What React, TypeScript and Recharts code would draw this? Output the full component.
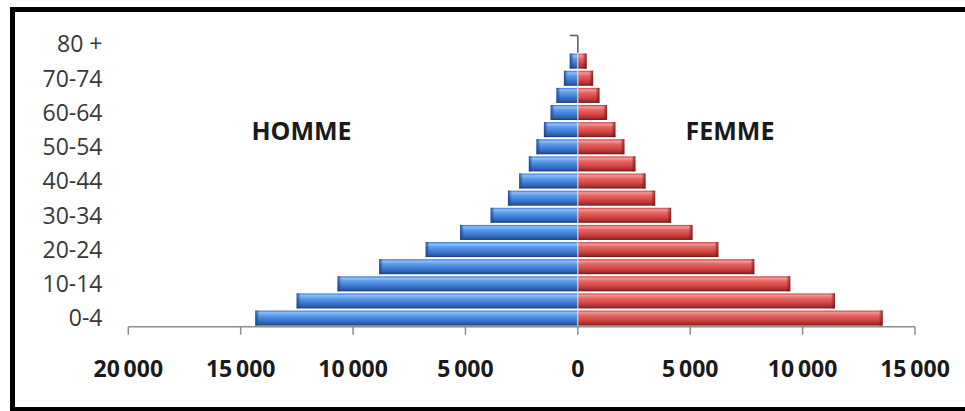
import React from 'react';
import { BarChart, Bar, XAxis, YAxis, ReferenceLine } from 'recharts';

const ages = ['0-4', '5-9', '10-14', '15-19', '20-24', '25-29', '30-34', '35-39', '40-44', '45-49', '50-54', '55-59', '60-64', '65-69', '70-74', '75-79', '80 +'];
const male = [14350, 12510, 10690, 8840, 6770, 5240, 3880, 3110, 2610, 2180, 1840, 1510, 1210, 950, 620, 360, 0];
const female = [13560, 11440, 9450, 7850, 6250, 5100, 4150, 3440, 3010, 2560, 2070, 1670, 1300, 960, 680, 390, 0];
const xTicks = [-20000, -15000, -10000, -5000, 0, 5000, 10000, 15000];

const data = ages.map((age, i) => ({ age, homme: -male[i], femme: female[i] }));

const fmt = (v: number) => {
  const a = Math.abs(v);
  if (a < 1000) return String(a);
  const th = Math.floor(a / 1000);
  const rest = String(a % 1000).padStart(3, '0');
  return th + '\u2009' + rest;
};

const YTick = (props: any) => {
  const { x, y, payload } = props;
  return (
    <text x={x} y={y} dy={8.3} textAnchor="end" fontFamily="'Open Sans', sans-serif" fontSize={23} fill="#383838">
      {payload.value}
    </text>
  );
};

const XTick = (props: any) => {
  const { x, y, payload } = props;
  return (
    <text x={x} y={y} dy={42.6} textAnchor="middle" fontFamily="'Open Sans', sans-serif" fontWeight={700} fontSize={23} fill="#1a1a1a">
      {fmt(payload.value)}
    </text>
  );
};

const makeShape = (kind: 'm' | 'f') => (props: any) => {
  const { x, y, width, height } = props;
  if (!width || !height) return <g />;
  const x0 = Math.min(x, x + width);
  const w = Math.abs(width);
  const h = Math.abs(height);
  const y0 = Math.min(y, y + height);
  const e = Math.min(4, w);
  const endX = kind === 'm' ? x0 : x0 + w - e;
  return (
    <g>
      <rect x={x0} y={y0} width={w} height={h} fill={kind === 'm' ? 'url(#gBlue)' : 'url(#gRed)'} />
      <rect x={endX} y={y0} width={e} height={h} fill={kind === 'm' ? 'url(#eBlue)' : 'url(#eRed)'} />
    </g>
  );
};

const AxisShape = (p: any) => {
  const { x1, y1, y2 } = p;
  const top = Math.min(y1, y2);
  const bottom = Math.max(y1, y2);
  const band = (bottom - top) / ages.length;
  return (
    <g>
      <line x1={x1} y1={top} x2={x1} y2={bottom} stroke="#e8e8e8" strokeWidth={1} />
      <line x1={x1} y1={top} x2={x1} y2={top + band} stroke="#595959" strokeWidth={1.5} />
      <line x1={x1 - 8} y1={top} x2={x1} y2={top} stroke="#595959" strokeWidth={1.5} />
    </g>
  );
};

export default function App() {
  return (
    <div style={{ position: 'absolute', left: 0, top: 0, width: 965, height: 411, overflow: 'hidden', background: '#fff' }}>
      <div
        style={{
          position: 'absolute',
          left: 10,
          top: 7,
          width: 2000,
          height: 405,
          borderLeft: '5px solid #000',
          borderTop: '5px solid #000',
          borderBottom: '5px solid #000',
          borderRight: 'none',
          boxSizing: 'border-box',
        }}
      />
      <div style={{ position: 'absolute', left: 0, top: 0 }}>
        <BarChart
          layout="vertical"
          width={965}
          height={411}
          data={data}
          margin={{ top: 35.5, right: 50, bottom: 24.3, left: 0 }}
          barCategoryGap={1}
          stackOffset="sign"
        >
          <defs>
            <linearGradient id="gBlue" x1="0" y1="0" x2="0" y2="1">
              <stop offset="0%" stopColor="#3b77cf" />
              <stop offset="14%" stopColor="#8dc0f7" />
              <stop offset="32%" stopColor="#5e9be8" />
              <stop offset="62%" stopColor="#3d7bd3" />
              <stop offset="86%" stopColor="#2b5fb0" />
              <stop offset="100%" stopColor="#163870" />
            </linearGradient>
            <linearGradient id="gRed" x1="0" y1="0" x2="0" y2="1">
              <stop offset="0%" stopColor="#c84341" />
              <stop offset="14%" stopColor="#f39896" />
              <stop offset="32%" stopColor="#e56563" />
              <stop offset="62%" stopColor="#d24845" />
              <stop offset="86%" stopColor="#ab2f2d" />
              <stop offset="100%" stopColor="#6c1614" />
            </linearGradient>
            <linearGradient id="eBlue" x1="0" y1="0" x2="1" y2="0">
              <stop offset="0%" stopColor="#1d4488" stopOpacity={0.9} />
              <stop offset="100%" stopColor="#1d4488" stopOpacity={0} />
            </linearGradient>
            <linearGradient id="eRed" x1="0" y1="0" x2="1" y2="0">
              <stop offset="0%" stopColor="#7a1a18" stopOpacity={0} />
              <stop offset="100%" stopColor="#7a1a18" stopOpacity={0.9} />
            </linearGradient>
          </defs>
          <XAxis
            type="number"
            domain={[-20000, 15000]}
            ticks={xTicks}
            interval={0}
            height={60}
            tickSize={8}
            tickMargin={0}
            stroke="#8c8c8c"
            axisLine={{ stroke: '#8c8c8c', strokeWidth: 1.5 }}
            tickLine={{ stroke: '#8c8c8c', strokeWidth: 1.5 }}
            tick={<XTick />}
          />
          <YAxis
            type="category"
            dataKey="age"
            reversed
            width={128.3}
            interval={1}
            axisLine={false}
            tickLine={false}
            tickSize={0}
            tickMargin={25.8}
            tick={<YTick />}
          />
          <Bar dataKey="homme" stackId="a" isAnimationActive={false} shape={makeShape('m')} />
          <Bar dataKey="femme" stackId="a" isAnimationActive={false} shape={makeShape('f')} />
          <ReferenceLine x={0} shape={AxisShape} />
        </BarChart>
      </div>
      <svg width={965} height={411} style={{ position: 'absolute', left: 0, top: 0, pointerEvents: 'none' }}>
        <text x={301.5} y={140} textAnchor="middle" fontFamily="'Open Sans', sans-serif" fontWeight={700} fontSize={25} fill="#1a1a1a">HOMME</text>
        <text x={730} y={140} textAnchor="middle" fontFamily="'Open Sans', sans-serif" fontWeight={700} fontSize={25} fill="#1a1a1a">FEMME</text>
      </svg>
    </div>
  );
}
